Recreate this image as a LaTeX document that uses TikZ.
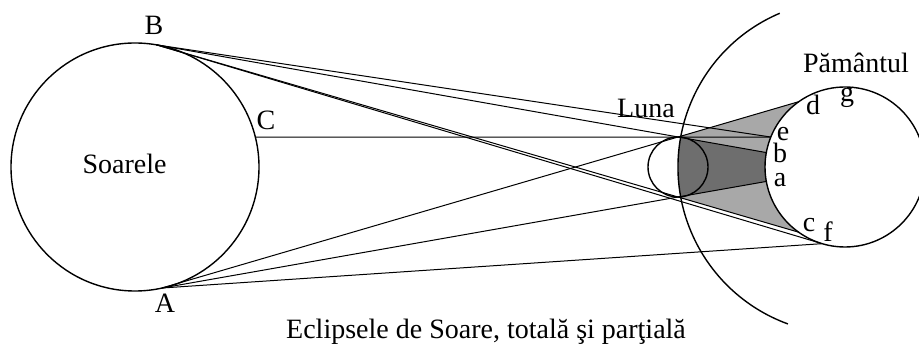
\documentclass[tikz,border=0pt]{standalone}
\usepackage{fontspec}
\setmainfont{Liberation Serif}
\usetikzlibrary{calc}
\definecolor{penumbra}{HTML}{A8A8A8}
\definecolor{umbra}{HTML}{6E6E6E}
\begin{document}
\begin{tikzpicture}[x=1pt,y=-1pt,
  body/.style={line width=1.4pt},
  ray/.style={line width=1pt},
  lbl/.style={font=\fontsize{28}{30}\selectfont, inner sep=0pt, anchor=base}]
\useasboundingbox (0,0) rectangle (919,347);

% centres of Sun, Moon and Earth
\coordinate (S) at (135,167);
\coordinate (M) at (678,167);
\coordinate (E) at (845,167);

% points on the Sun
\coordinate (B) at ($(S)+(-80:124)$);
\coordinate (A) at ($(S)+(77.4:124)$);
\coordinate (C) at ($(S)+(-14:124)$);

% top and bottom of the Moon
\coordinate (MT) at (678,137);
\coordinate (MB) at (678,197);

% points on the Earth
\coordinate (d) at ($(E)+(234.8:80)$);
\coordinate (e) at ($(E)+(202:80)$);
\coordinate (b) at ($(E)+(190.4:80)$);
\coordinate (a) at ($(E)+(169.6:80)$);
\coordinate (c) at ($(E)+(125.4:80)$);
\coordinate (f) at ($(E)+(106.6:80)$);

% lunar orbit
\coordinate (O1) at ($(E)+(247:167)$);
\coordinate (OB) at ($(E)+(169.65:167)$);

% penumbra
\fill[penumbra] (MT) -- (d) arc[start angle=234.8, end angle=125.4, radius=80]
  -- (MB) -- (OB) arc[start angle=169.65, end angle=190.35, radius=167] -- cycle;
% umbra
\fill[umbra] (MT) -- (b) arc[start angle=190.4, end angle=169.6, radius=80]
  -- (MB) -- (OB) arc[start angle=169.65, end angle=190.35, radius=167] -- cycle;

% bodies
\draw[body] (S) circle[radius=124];
\draw[body] (M) circle[radius=30];
\draw[body] (E) circle[radius=80];
\draw[body] (O1) arc[start angle=247, end angle=110, radius=167];

% rays
\draw[ray] (B) -- (e);
\draw[ray] (B) -- (b);
\draw[ray] (B) -- (c);
\draw[ray] (B) -- (f);
\draw[ray] (C) -- (e);
\draw[ray] (A) -- (d);
\draw[ray] (A) -- (a);
\draw[ray] (A) -- (f);

% labels
\node[lbl] (lB) at (154,35) {B};
\node[lbl] (lC) at (266,130) {C};
\node[lbl] (lA) at (165,313) {A};
\node[lbl] (sun) at (124.5,174) {Soarele};
\node[lbl] (moon) at (646,118) {Luna};
\node[lbl] (earth) at (856,73) {Pământul};
\node[lbl] (ld) at (813,115) {d};
\node[lbl] (lg) at (847,102) {g};
\node[lbl] (le) at (783,140.5) {e};
\node[lbl] (lb) at (780,163) {b};
\node[lbl] (la) at (780,187) {a};
\node[lbl] (lc) at (809,232) {c};
\node[lbl] (lf) at (828,242) {f};
\node[lbl, anchor=base west] (cap) at (286,339) {Eclipsele de Soare, totală şi parţială};
\end{tikzpicture}
\end{document}
